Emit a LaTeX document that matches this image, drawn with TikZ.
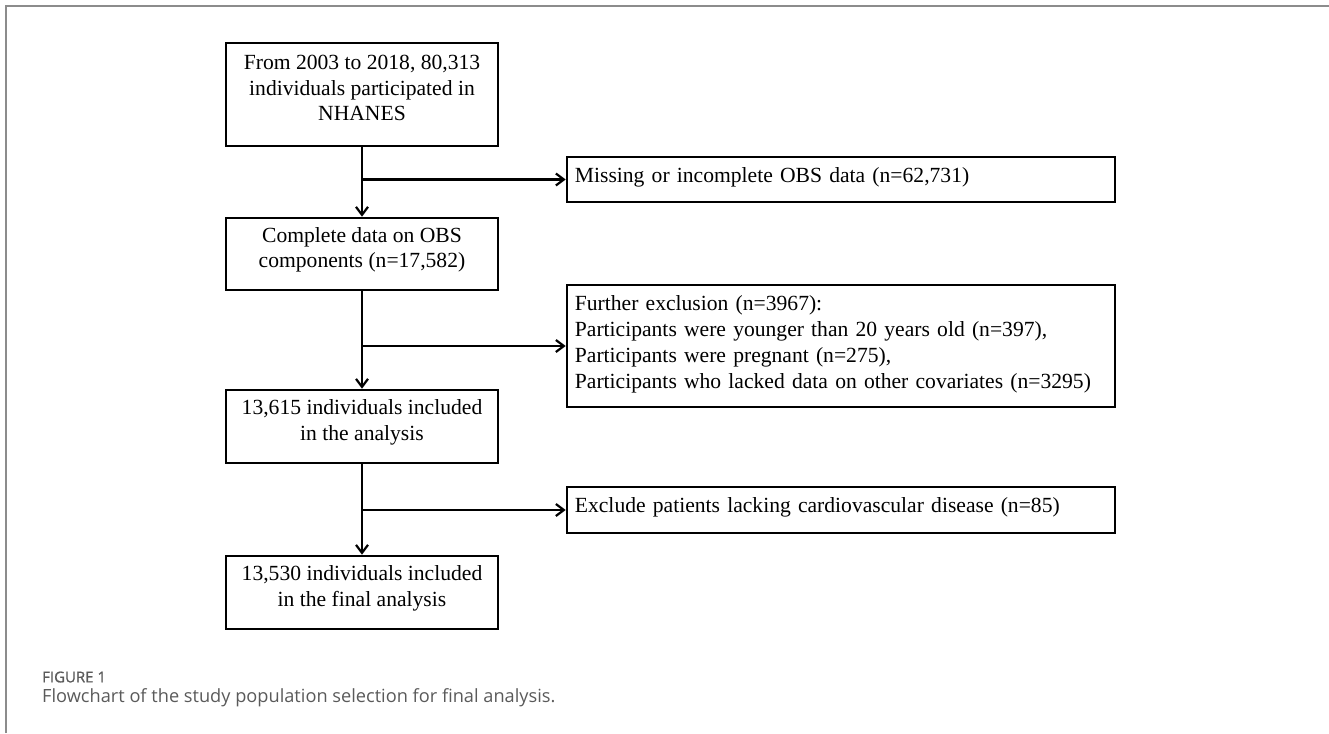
\documentclass[tikz,border=0pt]{standalone}
\usepackage{fontspec}
\setmainfont{Liberation Serif}
\newfontfamily\capfont{Open Sans}
\newfontfamily\capsemi{Open Sans}[FakeBold=1.0]
\usetikzlibrary{arrows.meta}
\definecolor{framegray}{HTML}{8C8C8C}
\definecolor{capgray}{HTML}{5A5A5A}
\begin{document}
\begin{tikzpicture}[x=1pt,y=-1pt,
  box/.style={draw=black, line width=2.6pt, minimum width=272pt, align=center,
    inner sep=0pt, text depth=13pt, font=\fontsize{21.6}{25.5}\selectfont},
  sidebox/.style={draw=black, line width=2.6pt, minimum width=548pt, inner sep=0pt},
  sidetext/.style={anchor=west, text width=530pt, align=left, inner sep=0pt,
    xshift=9pt, yshift=2pt, font=\fontsize{21.6}{26}\selectfont},
  arr/.style={line width=2.2pt, -{Straight Barb[length=8pt,width=12pt]}},
  frame/.style={draw=framegray, line width=1.5pt},
  figlabel/.style={anchor=west, inner sep=0pt, text=capgray, font=\capsemi\fontsize{15}{18}\selectfont},
  captext/.style={anchor=west, inner sep=0pt, text=capgray, font=\capfont\fontsize{18.2}{21}\selectfont}
]
\useasboundingbox (0,0) rectangle (1329,733);
\draw[frame] (6,733) -- (6,6) -- (1329,6);

\node[box, minimum height=103pt] (b1) at (362,94.5)
  {From 2003 to 2018, 80,313\\ individuals participated in\\ NHANES};
\node[box, minimum height=72pt] (b2) at (362,254)
  {Complete data on OBS\\ components (n=17,582)};
\node[box, minimum height=73pt] (b3) at (362,426.5)
  {13,615 individuals included\\ in the analysis};
\node[box, minimum height=73pt] (b4) at (362,592.5)
  {13,530 individuals included\\ in the final analysis};

\node[sidebox, minimum height=45pt] (m1) at (841,179.5) {};
\node[sidetext] (m1t) at (m1.west)
  {Missing or incomplete OBS data (n=62,731)};
\node[sidebox, minimum height=122pt] (m2) at (841,346) {};
\node[sidetext, yshift=-0.5pt] (m2t) at (m2.west)
  {Further exclusion (n=3967):\\
   Participants were younger than 20 years old (n=397),\\
   Participants were pregnant (n=275),\\
   Participants who lacked data on other covariates (n=3295)};
\node[sidebox, minimum height=46pt] (m3) at (841,510) {};
\node[sidetext, yshift=0.5pt] (m3t) at (m3.west)
  {Exclude patients lacking cardiovascular disease (n=85)};

\draw[arr] (b1.south) -- (b2.north);
\draw[arr] (b2.south) -- (b3.north);
\draw[arr] (b3.south) -- (b4.north);
\draw[arr] (b1.south |- m1.west) -- (m1.west);
\draw[arr] (b2.south |- m2.west) -- (m2.west);
\draw[arr] (b3.south |- m3.west) -- (m3.west);

\node[figlabel] (fig) at (42,677) {FIGURE 1};
\node[captext] (cap) at (42,698) {Flowchart of the study population selection for final analysis.};
\end{tikzpicture}
\end{document}
